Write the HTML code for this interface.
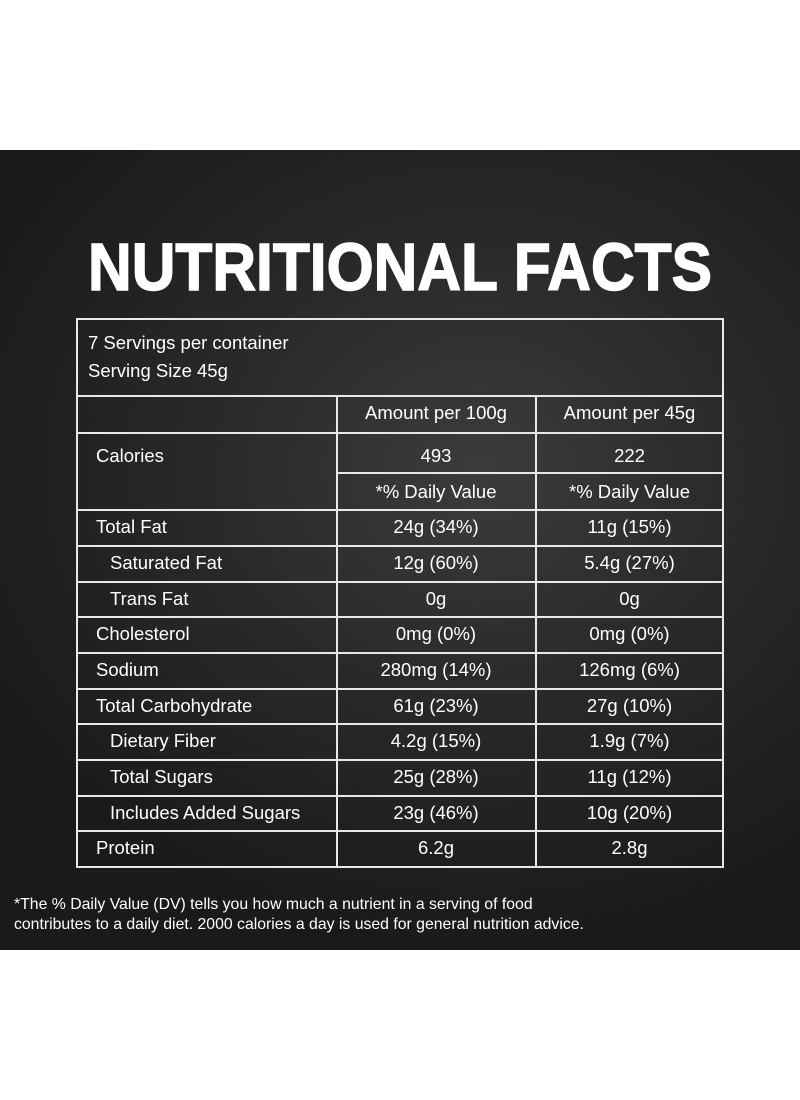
<!DOCTYPE html>
<html><head><style>
body{margin:0;width:800px;height:1100px;background:#fff;position:relative;font-family:"Liberation Sans",sans-serif;overflow:hidden}
#panel{position:absolute;left:0;top:150px;width:800px;height:800px;background:radial-gradient(ellipse 70% 60% at 60% 40%,#3c3c3c 0%,#2a2a2a 45%,#1a1a1a 100%)}
.l{position:absolute;background:#e8e8e8}
.t{position:absolute;color:#fff;font-size:18.5px;white-space:nowrap}
.c{text-align:center}
</style></head><body>
<div id="panel"></div>
<svg style="position:absolute;left:0;top:0" width="800" height="400"><text x="88" y="290" fill="#fff" font-family="Liberation Sans" font-weight="bold" font-size="67" textLength="624" lengthAdjust="spacingAndGlyphs" stroke="#fff" stroke-width="1.5">NUTRITIONAL FACTS</text></svg>
<div id="tbl"></div>
<div class="t" style="left:14px;top:896px;font-size:15.8px">*The % Daily Value (DV) tells you how much a nutrient in a serving of food</div>
<div class="t" style="left:14px;top:916px;font-size:15.8px">contributes to a daily diet. 2000 calories a day is used for general nutrition advice.</div>
<script>
var h='';
function L(x,y,w,hh){h+='<div class="l" style="left:'+x+'px;top:'+y+'px;width:'+w+'px;height:'+hh+'px"></div>'}
function X(x,y,s,c,w){h+='<div class="t'+(c?' c':'')+'" style="left:'+x+'px;top:'+y+'px;'+(w?'width:'+w+'px':'')+'">'+s+'</div>'}
var ys=[318,395,432,509,545,581,616,652,688,723,759,795,830,866];
L(76,318,2,550);L(722,318,2,550);
ys.forEach(function(y){L(76,y,648,2)});
L(336,472,388,2);
L(336,395,2,471);L(535,395,2,471);
X(88,332,'7 Servings per container');X(88,360,'Serving Size 45g');
X(336,402,'Amount per 100g',1,200);X(535,402,'Amount per 45g',1,189);
X(96,445,'Calories');X(336,445,'493',1,200);X(535,445,'222',1,189);
X(336,481,'*% Daily Value',1,200);X(535,481,'*% Daily Value',1,189);
var r=[['Total Fat','24g (34%)','11g (15%)',96],['Saturated Fat','12g (60%)','5.4g (27%)',110],['Trans Fat','0g','0g',110],['Cholesterol','0mg (0%)','0mg (0%)',96],['Sodium','280mg (14%)','126mg (6%)',96],['Total Carbohydrate','61g (23%)','27g (10%)',96],['Dietary Fiber','4.2g (15%)','1.9g (7%)',110],['Total Sugars','25g (28%)','11g (12%)',110],['Includes Added Sugars','23g (46%)','10g (20%)',110],['Protein','6.2g','2.8g',96]];
r.forEach(function(a,i){var y=ys[i+3]+7;X(a[3],y,a[0]);X(336,y,a[1],1,200);X(535,y,a[2],1,189)});
document.getElementById('tbl').innerHTML=h;
</script>
</body></html>
